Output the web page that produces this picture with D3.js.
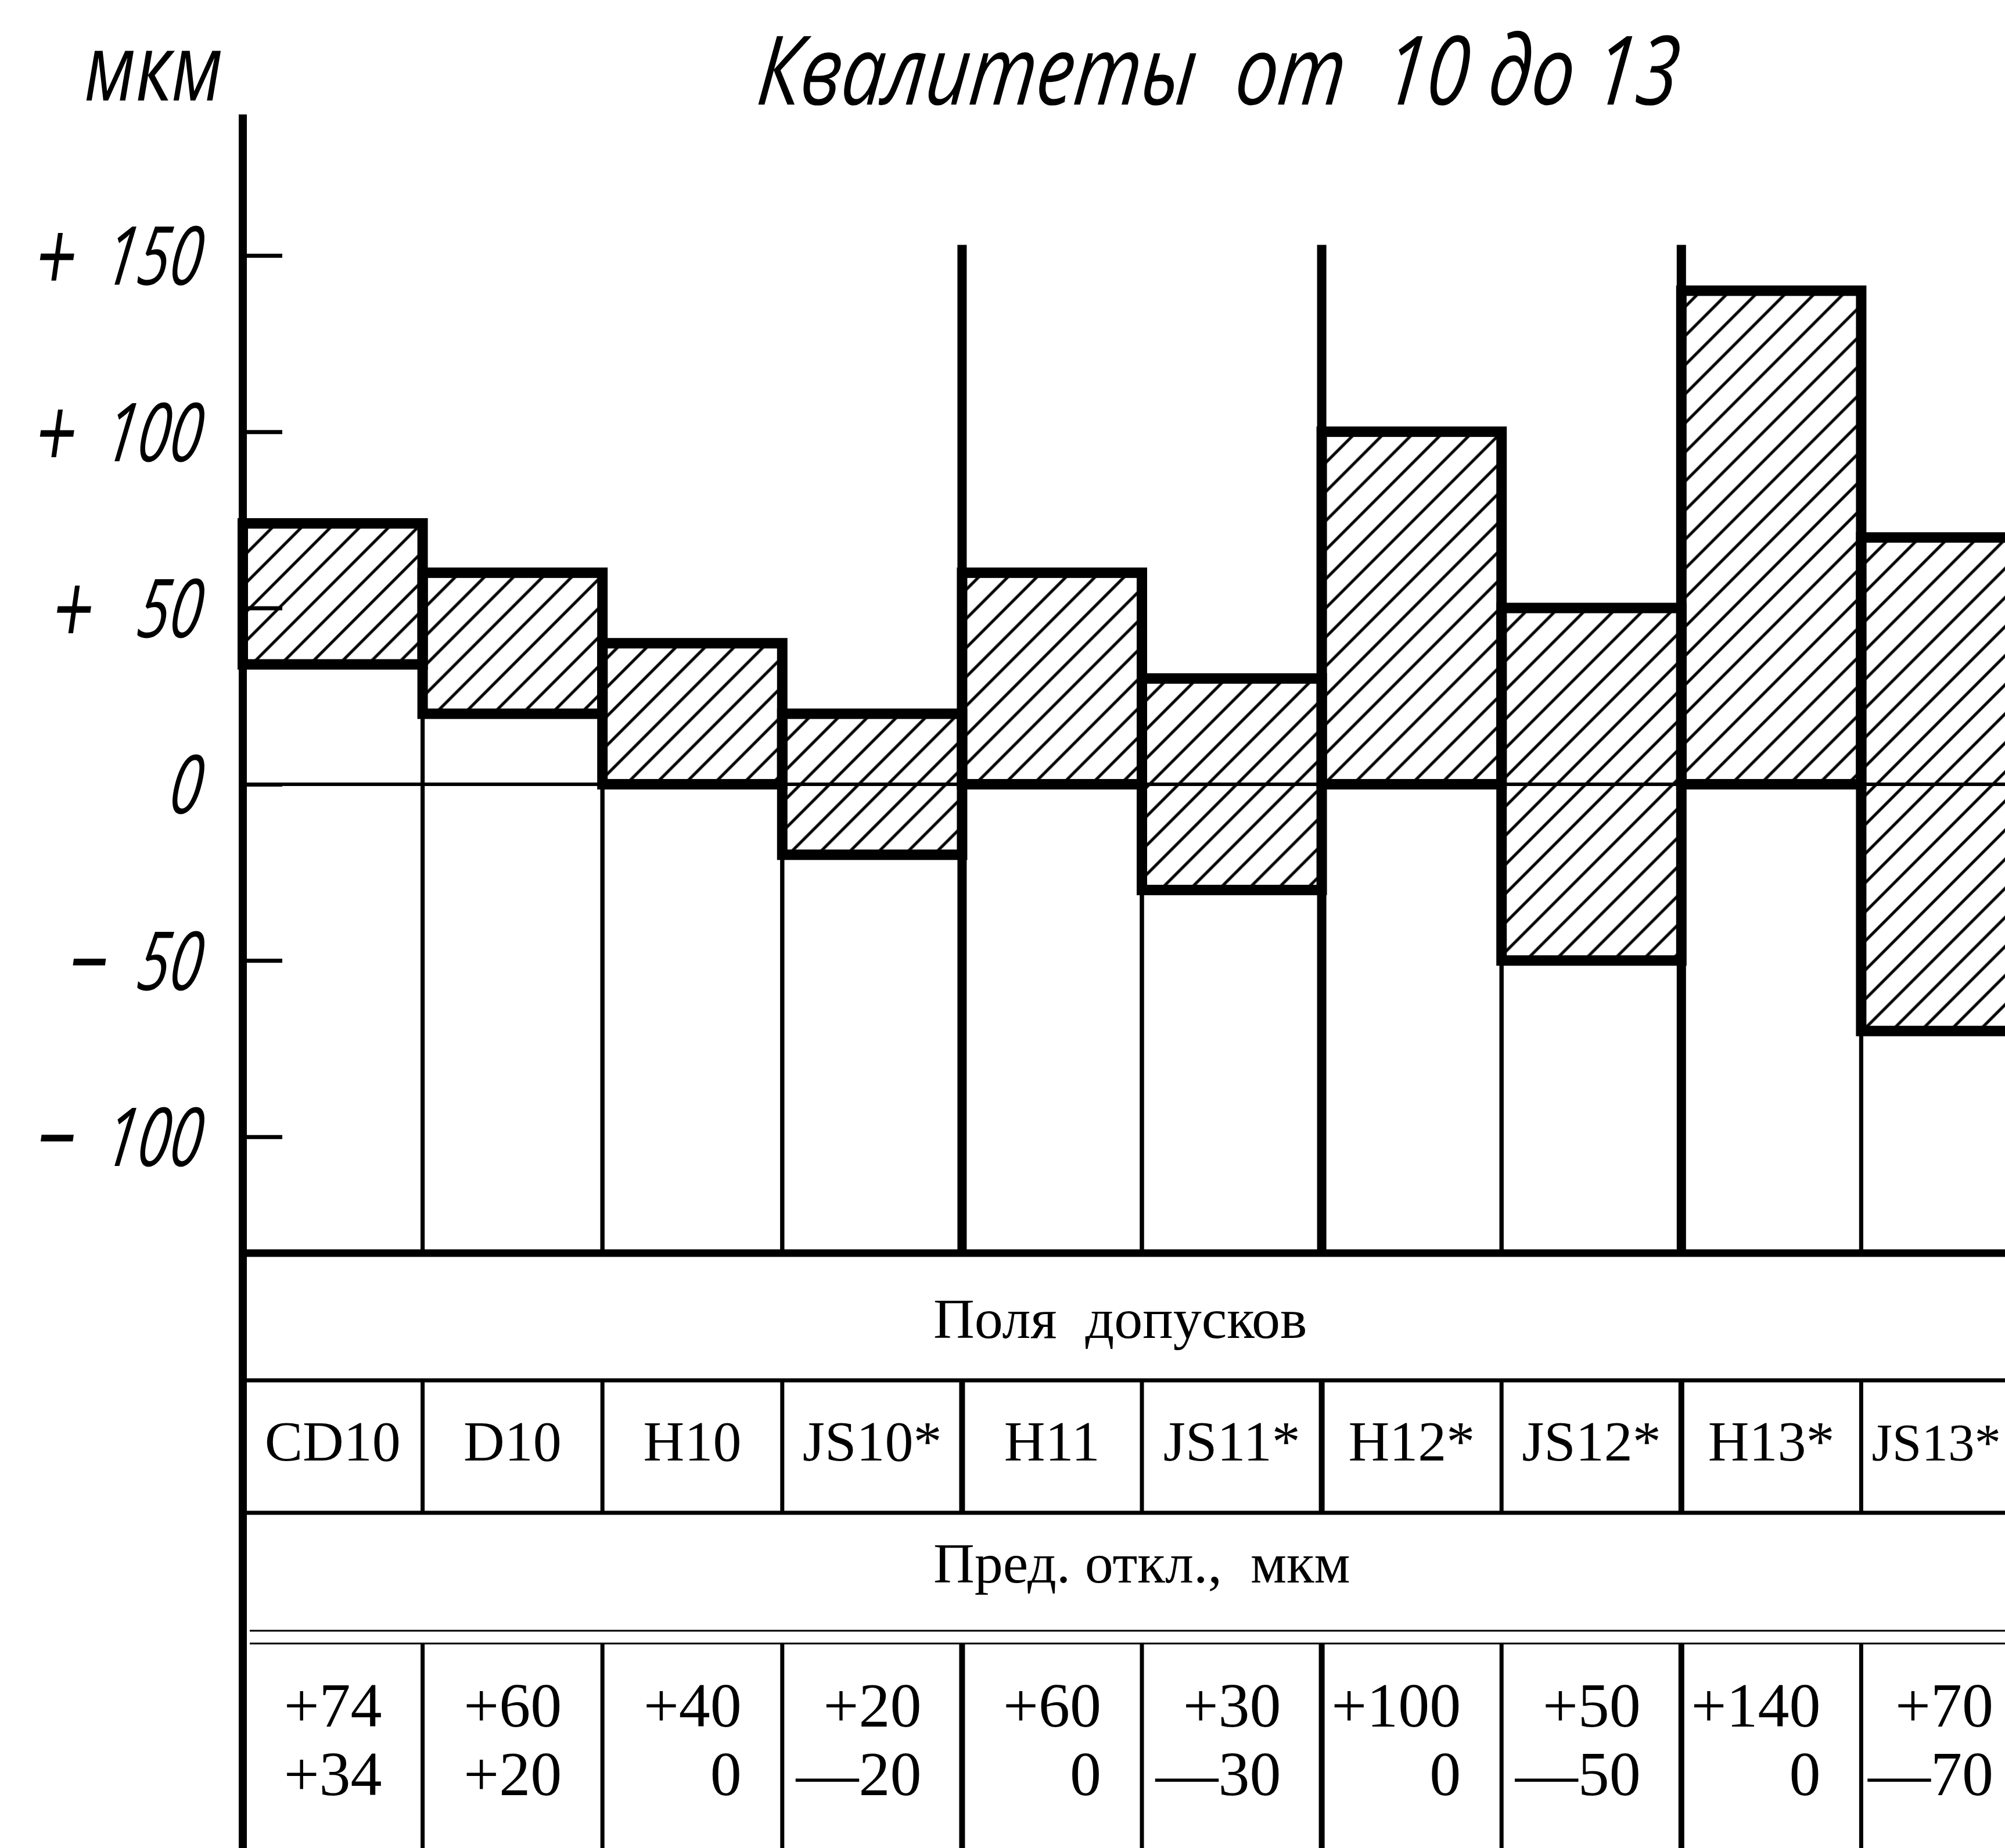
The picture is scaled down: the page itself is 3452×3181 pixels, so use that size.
<!DOCTYPE html>
<html>
<head>
<meta charset="utf-8">
<script src="https://cdn.jsdelivr.net/npm/d3@7"></script>
<style>
    body { margin: 0; background: #fff; }
    svg { display: block; }
    .draft { font-family: "Open Sans", sans-serif; font-style: italic; white-space: pre; }
    .serif { font-family: "Liberation Serif", serif; white-space: pre; }
</style>
</head>
<body>
<svg id="chart" width="3452" height="3181"></svg>
<script>
(function () {

    // DATA
    var fields = ["CD10", "D10", "H10", "JS10*", "H11", "JS11*", "H12*", "JS12*", "H13*", "JS13*"];
    var upper = [74, 60, 40, 20, 60, 30, 100, 50, 140, 70];
    var lower = [34, 20, 0, -20, 0, -30, 0, -50, 0, -70];
    var grade = [10, 10, 10, 10, 11, 11, 12, 12, 13, 13];
    var yTicks = [-100, -50, 0, 50, 100, 150];

    var title = "Квалитеты  от  10 до 13";
    var unit = "мкм";
    var headFields = "Поля  допусков";
    var headDev = "Пред. откл.,  мкм";

    // LAYOUT
    var W = 3452, H = 3181;
    var axisX = 418;
    var rowTop = 2157, rowNames = 2376, rowDev = 2604, dbl1 = 2807, dbl2 = 2829;

    var svg = d3.select("#chart");
    svg.append("rect").attr("width", W).attr("height", H).attr("fill", "#fff");

    //SCALES
    var step = 309.6;
    var x = d3.scaleBand().domain(fields).range([axisX, axisX + step * fields.length]);
    var bw = x.bandwidth();
    var y = d3.scaleLinear().domain([-133, 190]).range([rowTop, 197]);

    //HATCH
    var pat = svg.append("defs").append("pattern")
        .attr("id", "hatch")
        .attr("patternUnits", "userSpaceOnUse")
        .attr("width", 35.4).attr("height", 35.4)
        .attr("patternTransform", "rotate(45)");
    pat.append("line")
        .attr("x1", 17.7).attr("y1", -1).attr("x2", 17.7).attr("y2", 36.4)
        .attr("stroke", "#000").attr("stroke-width", 5);

    //ZERO LINE
    svg.append("line")
        .attr("x1", axisX).attr("x2", W)
        .attr("y1", y(0)).attr("y2", y(0))
        .attr("stroke", "#000").attr("stroke-width", 6);

    //THIN LINES BELOW BARS
    fields.forEach(function (f, i) {
        [x(f), x(f) + bw].forEach(function (xx) {
            svg.append("line")
                .attr("x1", xx).attr("x2", xx)
                .attr("y1", y(lower[i])).attr("y2", rowTop)
                .attr("stroke", "#000").attr("stroke-width", 7);
        });
    });

    //BARS
    svg.selectAll(".bar")
        .data(fields)
        .enter().append("rect")
        .attr("class", "bar")
        .attr("x", function (d) { return x(d); })
        .attr("y", function (d, i) { return y(upper[i]); })
        .attr("width", bw)
        .attr("height", function (d, i) { return y(lower[i]) - y(upper[i]); })
        .attr("fill", "url(#hatch)")
        .attr("stroke", "#000")
        .attr("stroke-width", 18);

    //GRADE SEPARATORS
    var seps = fields.filter(function (d, i) { return i > 0 && grade[i] !== grade[i - 1]; });
    seps.forEach(function (f) {
        svg.append("line")
            .attr("x1", x(f)).attr("x2", x(f))
            .attr("y1", y(153)).attr("y2", rowTop)
            .attr("stroke", "#000").attr("stroke-width", 16);
    });

    //Y AXIS
    var sx = 0.72;
    var gy = svg.append("g")
        .attr("transform", "translate(" + axisX + ",0)")
        .call(d3.axisLeft(y).tickValues(yTicks).tickSizeInner(-68).tickSizeOuter(0).tickPadding(68));
    gy.select(".domain").remove();
    gy.selectAll(".tick line").attr("stroke", "#000").attr("stroke-width", 7);
    gy.selectAll(".tick text")
        .attr("class", "draft")
        .attr("font-size", 140)
        .attr("fill", "#000")
        .attr("x", -68 / sx)
        .attr("dy", null)
        .attr("transform", "skewX(-8) scale(" + sx + ",1)")
        .each(function (d) {
            var t = d3.select(this).text("");
            var base = 50;
            if (d !== 0) {
                t.append("tspan").attr("font-size", 170).attr("dy", base + 12).text(d > 0 ? "+" : "−");
            }
            var gap = d === 0 ? "" : (d > 0 && d < 100 ? "   " : "  ");
            t.append("tspan").attr("dy", d !== 0 ? -12 : base).text(gap + Math.abs(d));
        });

    svg.append("line")
        .attr("x1", axisX).attr("x2", axisX)
        .attr("y1", 197).attr("y2", H)
        .attr("stroke", "#000").attr("stroke-width", 14);

    //TITLE AND UNIT
    svg.append("text")
        .attr("class", "draft")
        .attr("x", 1300).attr("y", 180)
        .attr("font-size", 165)
        .attr("textLength", 1585).attr("lengthAdjust", "spacingAndGlyphs")
        .attr("transform", "skewX(-6) translate(19,0)")
        .text(title);
    svg.append("text")
        .attr("class", "draft")
        .attr("x", 0).attr("y", 0)
        .attr("font-size", 160)
        .attr("transform", "translate(145,173) scale(0.8,1)")
        .text(unit);

    //TABLE LINES
    function hline(yy, w, x0) {
        svg.append("line")
            .attr("x1", x0 || axisX).attr("x2", W)
            .attr("y1", yy).attr("y2", yy)
            .attr("stroke", "#000").attr("stroke-width", w);
    }
    hline(rowTop, 13);
    hline(rowNames, 7);
    hline(rowDev, 7);
    hline(dbl1, 3, 430);
    hline(dbl2, 3, 430);

    fields.forEach(function (f, i) {
        if (i === 0) return;
        var w = grade[i] !== grade[i - 1] ? 10 : 7;
        [[rowNames, rowDev], [dbl2, H]].forEach(function (r) {
            svg.append("line")
                .attr("x1", x(f)).attr("x2", x(f))
                .attr("y1", r[0]).attr("y2", r[1])
                .attr("stroke", "#000").attr("stroke-width", w);
        });
    });

    //TABLE TEXT
    svg.append("text").attr("class", "serif")
        .attr("x", 1607).attr("y", 2303).attr("font-size", 98)
        .text(headFields);
    svg.append("text").attr("class", "serif")
        .attr("x", 1607).attr("y", 2724).attr("font-size", 98)
        .text(headDev);

    svg.selectAll(".fname")
        .data(fields)
        .enter().append("text")
        .attr("class", "serif fname")
        .attr("x", function (d) { return x(d) + bw / 2; })
        .attr("y", 2514)
        .attr("font-size", 98)
        .attr("text-anchor", "middle")
        .text(function (d) { return d; })
        .each(function (d) {
            var len = this.getComputedTextLength();
            var cx = x(d) + bw / 2;
            if (cx + len / 2 > W - 8) {
                // last column is cut by the page edge: shrink the label to fit what is left
                var room = W - 7 - (x(d) + 18);
                d3.select(this)
                    .attr("text-anchor", "start")
                    .attr("x", x(d) + 18)
                    .attr("font-size", Math.floor(98 * room / len));
            }
        });

    var vfmt = function (v) { return v > 0 ? "+" + v : v < 0 ? "—" + (-v) : "0"; };
    [[upper, 2972], [lower, 3090]].forEach(function (row) {
        svg.selectAll(null)
            .data(row[0])
            .enter().append("text")
            .attr("class", "serif")
            .attr("x", function (d, i) { return Math.min(x(fields[i]) + bw - 70, W - 20); })
            .attr("y", row[1])
            .attr("font-size", 108)
            .attr("text-anchor", "end")
            .text(vfmt);
    });

})();
</script>
</body>
</html>
